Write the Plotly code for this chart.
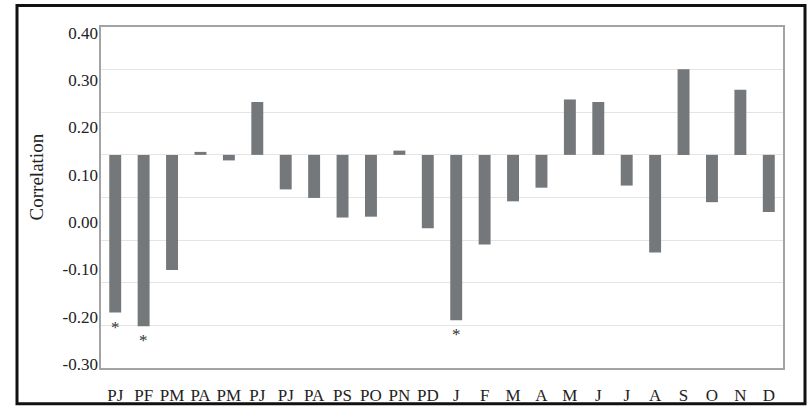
import plotly.graph_objects as go

# Data
categories = ["PJ", "PF", "PM", "PA", "PM", "PJ", "PJ", "PA", "PS", "PO", "PN", "PD",
              "J", "F", "M", "A", "M", "J", "J", "A", "S", "O", "N", "D"]
correlation = [-0.370, -0.402, -0.270, 0.007, -0.013, 0.124, -0.081, -0.101, -0.147, -0.145, 0.010, -0.172,
               -0.388, -0.210, -0.109, -0.077, 0.130, 0.124, -0.072, -0.229, 0.201, -0.111, 0.153, -0.134]
significant = [True, True, False, False, False, False, False, False, False, False, False, False,
               True, False, False, False, False, False, False, False, False, False, False, False]
y_tick_labels = [0.40, 0.30, 0.20, 0.10, 0.00, -0.10, -0.20, -0.30]

x_idx = list(range(len(categories)))
serif = "Liberation Serif, Times New Roman, serif"

fig = go.Figure()
fig.add_trace(go.Bar(
    x=x_idx, y=correlation, width=0.42,
    marker=dict(color="#75787b", line=dict(width=0)),
    showlegend=False, hoverinfo="skip",
))
# dummy trace to carry the label axis
fig.add_trace(go.Scatter(x=[0], y=[0], yaxis="y2", mode="markers",
                         marker=dict(opacity=0), showlegend=False, hoverinfo="skip"))

annotations = [dict(
    text="Correlation", xref="paper", yref="paper",
    x=-0.0953, y=0.559, xanchor="center", yanchor="middle",
    textangle=-90, showarrow=False,
    font=dict(family=serif, size=19, color="#222222"),
)]
for i, v, s in zip(x_idx, correlation, significant):
    if s:
        annotations.append(dict(
            text="*", x=i, y=v, xref="x", yref="y",
            xanchor="center", yanchor="top", yshift=-3, showarrow=False,
            font=dict(family=serif, size=17, color="#333333"),
        ))

fig.update_layout(
    width=808, height=417,
    margin=dict(l=101, r=25, t=27, b=41),
    paper_bgcolor="white", plot_bgcolor="white",
    font=dict(family=serif, size=16, color="#222222"),
    xaxis=dict(
        range=[-0.5, len(categories) - 0.5],
        tickmode="array", tickvals=x_idx, ticktext=categories,
        showgrid=False, zeroline=False,
        showline=True, mirror=True, linecolor="#a3a3a3", linewidth=2,
        ticks="", ticklabelstandoff=11,
        tickfont=dict(family=serif, size=17, color="#222222"),
    ),
    yaxis=dict(
        range=[-0.5, 0.3], dtick=0.1, tick0=0,
        showticklabels=False, ticks="",
        showgrid=True, gridcolor="#e4e4e4", gridwidth=1,
        zeroline=False,
        showline=True, mirror=True, linecolor="#a3a3a3", linewidth=2,
    ),
    yaxis2=dict(
        overlaying="y", side="left",
        range=[-0.308, 0.412],
        tickmode="array", tickvals=y_tick_labels,
        ticktext=[f"{v:.2f}" for v in y_tick_labels],
        showgrid=False, zeroline=False, showline=False, ticks="",
        ticklabelstandoff=2,
        tickfont=dict(family=serif, size=17, color="#222222"),
    ),
    annotations=annotations,
    shapes=[dict(
        type="rect", xref="paper", yref="paper",
        x0=(17 - 101) / 682, x1=(805 - 101) / 682,
        y0=(376 - 412.5) / 349, y1=(376 - 5) / 349,
        line=dict(color="#111111", width=3), fillcolor="rgba(0,0,0,0)",
        layer="above",
    )],
)

fig.write_html("out.html")
